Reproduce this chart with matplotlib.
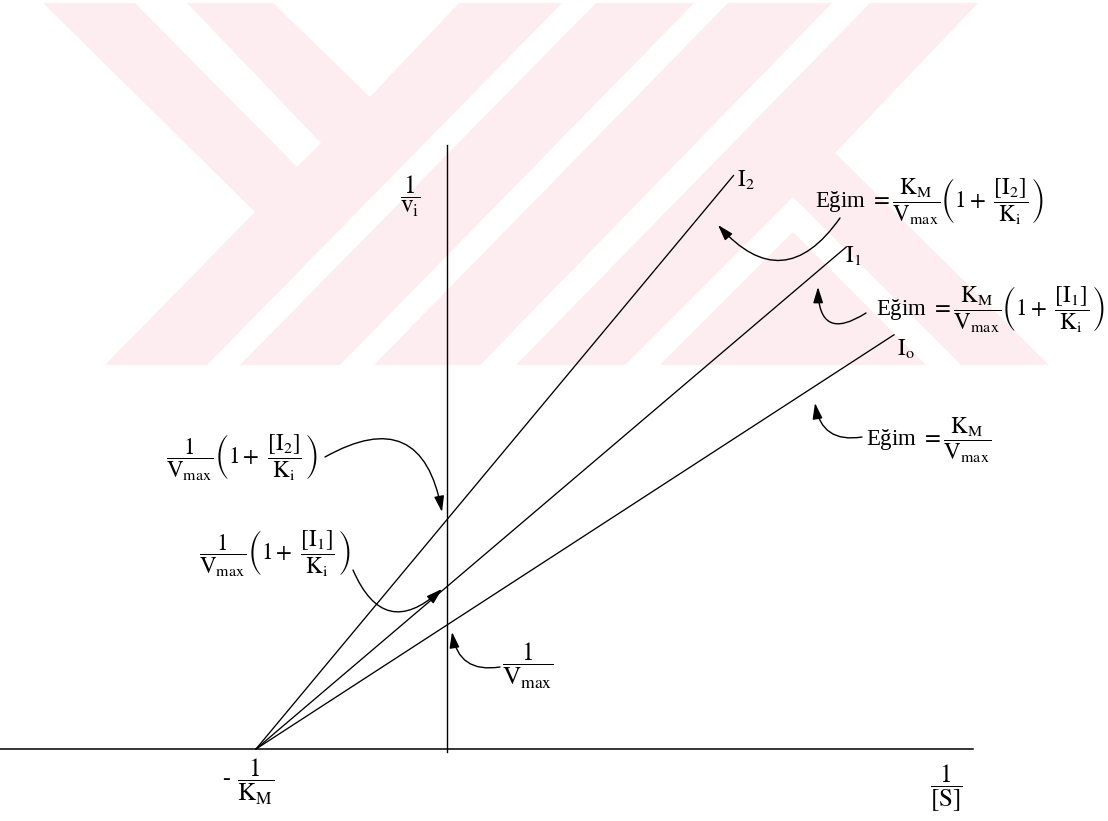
import matplotlib
matplotlib.use("Agg")
import matplotlib.pyplot as plt
import numpy as np

plt.rcParams['font.family'] = ['Liberation Serif', 'DejaVu Serif']
plt.rcParams['mathtext.fontset'] = 'stix'

# ---------------- data (Lineweaver-Burk, competitive inhibition) ----------------
series = ["I0", "I1", "I2"]
series_labels = [r"$\mathrm{I_o}$", r"$\mathrm{I_1}$", r"$\mathrm{I_2}$"]
inv_KM = 1.0            # x-intercept is -1/KM
inv_Vmax = 1.0          # y-intercept of uninhibited line
factors = [1.0, 1.31, 1.85]      # (1 + [I]/Ki) for I0, I1, I2
x_end = [2.34, 2.09, 1.50]       # last 1/[S] drawn for each line
x_axis_range = [-2.34, 2.754]    # drawn extent of 1/[S] axis
y_axis_range = [-0.024, 4.87]    # drawn extent of 1/v axis

# ---------------- figure / coordinate frame ----------------
W, H = 1108, 821
X0, Y0, SX, SY = 447, 749, 191.0, 124.0   # pixel origin and pixels per unit


def P(px, py):
    """pixel position (from top-left) -> data coordinates (layout helper)"""
    return ((px - X0) / SX, (Y0 - py) / SY)


fig = plt.figure(figsize=(W / 100, H / 100), dpi=100)
ax = fig.add_axes([0, 0, 1, 1])
ax.set_xlim(P(0, 0)[0], P(W, 0)[0])
ax.set_ylim(P(0, H)[1], P(0, 0)[1])
ax.axis('off')

# ---------------- watermark (decorative) ----------------
WM_COLOR = '#FDECF0'
wm_outer = [(43, 3), (273, 3), (370, 97), (459, 3), (978, 3), (835, 153),
            (1049, 365), (105, 365), (255, 212)]
wm_holes = [
    [(135, 3), (187, 3), (321, 143), (297, 167)],
    [(562, 3), (596, 3), (240, 365), (207, 365)],
    [(694, 3), (728, 3), (374, 365), (340, 365)],
    [(832, 3), (870, 3), (516, 365), (480, 365)],
    [(793, 197), (961, 365), (926, 365), (793, 232), (660, 365), (625, 365)],
]
pts = np.array([P(*p) for p in wm_outer])
ax.fill(pts[:, 0], pts[:, 1], color=WM_COLOR, lw=0, zorder=0)
for hole in wm_holes:
    pts = np.array([P(*p) for p in hole])
    ax.fill(pts[:, 0], pts[:, 1], color='white', lw=0, zorder=0.5)

# ---------------- axes lines ----------------
ax.plot(x_axis_range, [0, 0], color='black', lw=1.1, zorder=2)
ax.plot([0, 0], y_axis_range, color='black', lw=1.0, zorder=2)

# ---------------- lines ----------------
x_start = -inv_KM
for f, xe in zip(factors, x_end):
    xs = np.array([x_start, xe])
    ys = inv_Vmax * f * (1 + xs / inv_KM)
    ax.plot(xs, ys, color='black', lw=0.95, zorder=3)

# line labels
lab_pos = [(906, 349), (853, 256), (746, 180)]
FS = 16.5
FS_AX = 18
for lab, (px, py) in zip(series_labels, lab_pos):
    ax.text(*P(px, py), lab, fontsize=FS, ha='center', va='center', zorder=4)

# ---------------- axis titles ----------------
ax.text(*P(410, 196), r"$\dfrac{1}{\mathrm{v_i}}$", fontsize=FS_AX, ha='center', va='center')
ax.text(*P(946, 788), r"$\dfrac{1}{[\mathrm{S}]}$", fontsize=FS_AX, ha='center', va='center')
ax.text(*P(226, 779), "-", fontsize=FS, ha='center', va='center')
ax.text(*P(256, 782), r"$\dfrac{1}{\mathrm{K_M}}$", fontsize=FS_AX, ha='center', va='center')

# ---------------- annotations ----------------
frac_v = r"\dfrac{1}{\mathrm{V_{max}}}"
ax.text(*P(166, 458), r"$" + frac_v + r"\left(1+\ \dfrac{[\mathrm{I_2}]}{\mathrm{K_i}}\,\right)$",
        fontsize=FS, ha='left', va='center')
ax.text(*P(199, 554), r"$" + frac_v + r"\left(1+\ \dfrac{[\mathrm{I_1}]}{\mathrm{K_i}}\,\right)$",
        fontsize=FS, ha='left', va='center')
ax.text(*P(528, 666), r"$" + frac_v + r"$", fontsize=FS_AX, ha='center', va='center')

slope_frac = r"\dfrac{\mathrm{K_M}}{\mathrm{V_{max}}}"
ax.text(*P(815, 202), r"Eğim $=" + slope_frac + r"\left(1+\ \dfrac{[\mathrm{I_2}]}{\mathrm{K_i}}\,\right)$",
        fontsize=FS, ha='left', va='center')
ax.text(*P(876, 310), r"Eğim $=" + slope_frac + r"\left(1+\ \dfrac{[\mathrm{I_1}]}{\mathrm{K_i}}\,\right)$",
        fontsize=FS, ha='left', va='center')
ax.text(*P(866, 440), r"Eğim $=" + slope_frac + r"$",
        fontsize=FS, ha='left', va='center')


def curved_arrow(start_px, tip_px, rad):
    ax.annotate('', xy=P(*tip_px), xytext=P(*start_px),
                arrowprops=dict(arrowstyle='-|>,head_length=0.8,head_width=0.25',
                                connectionstyle='arc3,rad=%g' % rad,
                                color='black', lw=1.0, shrinkA=0, shrinkB=0,
                                mutation_scale=12), zorder=4)


curved_arrow((325, 457), (442, 512), -0.7)   # to I2 intercept
curved_arrow((353, 570), (442, 589), 0.7)    # to I1 intercept
curved_arrow((500, 667), (452, 632), -0.5)   # to 1/Vmax
curved_arrow((840, 218), (718, 225), -0.63)  # slope I2
curved_arrow((866, 313), (818, 287), -0.9)   # slope I1
curved_arrow((862, 437), (815, 403), -0.5)   # slope I0

fig.savefig('out.png', dpi=100)
